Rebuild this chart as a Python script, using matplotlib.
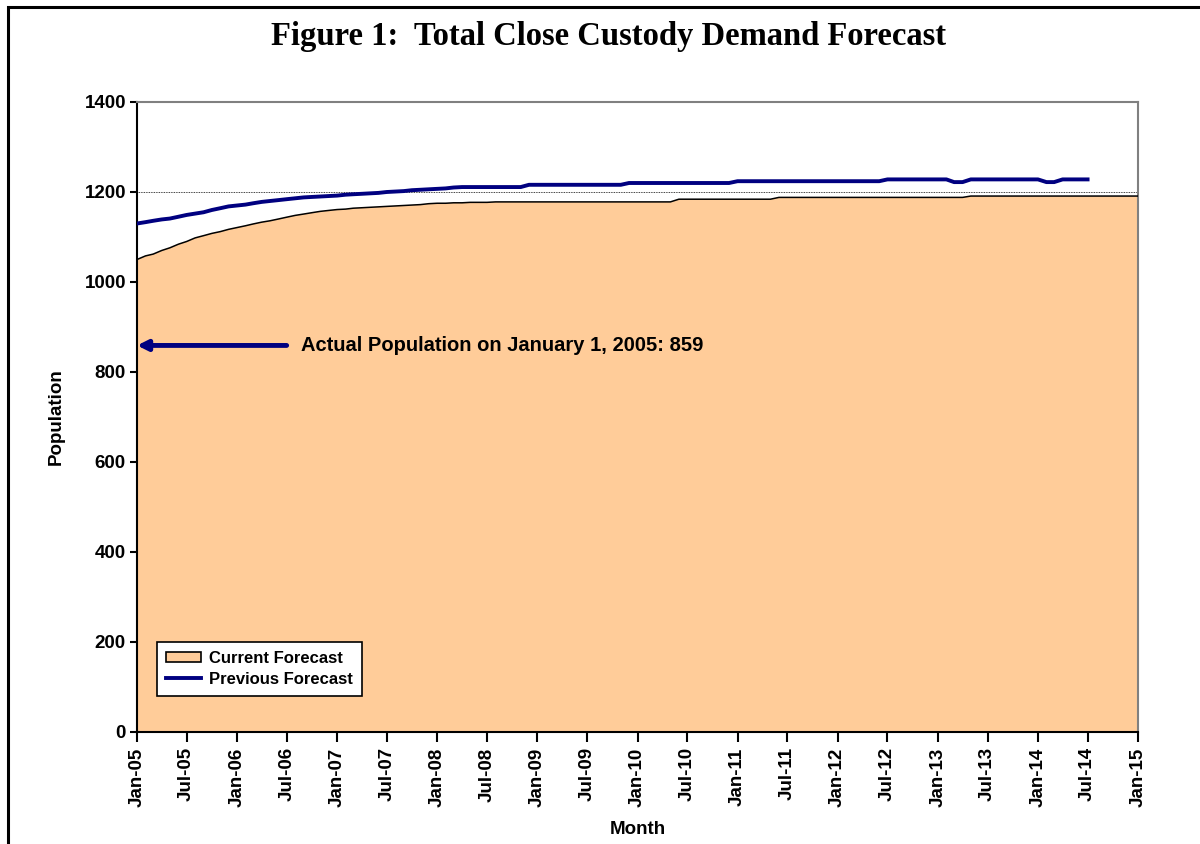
import numpy as np
import pandas as pd
import matplotlib
matplotlib.use("Agg")
import matplotlib.pyplot as plt
import matplotlib.dates as mdates
from matplotlib.patches import Rectangle, Patch
from matplotlib.lines import Line2D

plt.rcParams['font.family'] = ['Liberation Sans', 'DejaVu Sans']

# monthly values, Jan-05 onwards
current = [1050, 1058, 1062, 1070, 1076, 1084, 1090, 1098, 1103, 1108, 1112, 1117,
           1121, 1125, 1129, 1133, 1136, 1140, 1144, 1148, 1151, 1154, 1157, 1159,
           1161, 1162, 1164, 1165, 1166, 1167, 1168, 1169, 1170, 1171, 1172, 1174,
           1175, 1175, 1176, 1176, 1177, 1177, 1177, 1178, 1178, 1178, 1178, 1178,
           1178, 1178, 1178, 1178, 1178, 1178, 1178, 1178, 1178, 1178, 1178, 1178,
           1178, 1178, 1178, 1178, 1178, 1184, 1184, 1184, 1184, 1184, 1184, 1184,
           1184, 1184, 1184, 1184, 1184, 1188, 1188, 1188, 1188, 1188, 1188, 1188,
           1188, 1188, 1188, 1188, 1188, 1188, 1188, 1188, 1188, 1188, 1188, 1188,
           1188, 1188, 1188, 1188, 1191, 1191, 1191, 1191, 1191, 1191, 1191, 1191,
           1191, 1191, 1191, 1191, 1191, 1191, 1191, 1191, 1191, 1191, 1191, 1191,
           1191]
previous = [1130, 1133, 1136, 1139, 1141, 1145, 1149, 1152, 1155, 1160, 1164, 1168,
            1170, 1172, 1175, 1178, 1180, 1182, 1184, 1186, 1188, 1189, 1190, 1191,
            1192, 1194, 1195, 1196, 1197, 1198, 1200, 1201, 1202, 1204, 1205, 1206,
            1207, 1208, 1210, 1211, 1211, 1211, 1211, 1211, 1211, 1211, 1211, 1216,
            1216, 1216, 1216, 1216, 1216, 1216, 1216, 1216, 1216, 1216, 1216, 1220,
            1220, 1220, 1220, 1220, 1220, 1220, 1220, 1220, 1220, 1220, 1220, 1220,
            1224, 1224, 1224, 1224, 1224, 1224, 1224, 1224, 1224, 1224, 1224, 1224,
            1224, 1224, 1224, 1224, 1224, 1224, 1228, 1228, 1228, 1228, 1228, 1228,
            1228, 1228, 1222, 1222, 1228, 1228, 1228, 1228, 1228, 1228, 1228, 1228,
            1228, 1222, 1222, 1228, 1228, 1228, 1228]
actual_jan05 = 859

months_cur = pd.date_range('2005-01-01', periods=len(current), freq='MS')
months_prev = pd.date_range('2005-01-01', periods=len(previous), freq='MS')

fig = plt.figure(figsize=(12, 8.44), dpi=100)
ax = fig.add_axes([137/1200, 1 - 732/844, (1138 - 137)/1200, (732 - 102)/844])

# outer frame of the figure (only top/left visible in the original)
fig.patches.append(Rectangle((8/1200, -0.05), 1.2, 1 - 7/844 + 0.05, transform=fig.transFigure,
                             fill=False, edgecolor='black', linewidth=2.2))

ax.yaxis.grid(True, color='black', linestyle=(0, (1, 1)), linewidth=0.6, zorder=0)
ax.set_axisbelow(True)

ax.fill_between(months_cur, current, 0, facecolor='#FFCC99', edgecolor='none', zorder=2)
ax.plot(months_cur, current, color='black', linewidth=1.1, zorder=3)
ax.plot(months_prev, previous, color='#000080', linewidth=2.8, zorder=4)

ax.annotate('', xy=(months_cur[0], actual_jan05), xytext=(pd.Timestamp('2006-07-01'), actual_jan05),
            arrowprops=dict(arrowstyle='-|>,head_length=0.6,head_width=0.3', color='#000080',
                            linewidth=3.5, shrinkA=0, shrinkB=0), zorder=5)
ax.annotate('Actual Population on January 1, 2005: 859', xy=(pd.Timestamp('2006-07-01'), actual_jan05),
            xytext=(10, 0), textcoords='offset points',
            fontsize=14.5, fontweight='bold', va='center', ha='left', zorder=5)

ax.set_xlim(pd.Timestamp('2005-01-01'), pd.Timestamp('2015-01-01'))
ax.set_ylim(0, 1400)
ax.set_yticks(np.arange(0, 1401, 200))
ax.xaxis.set_major_locator(mdates.MonthLocator(bymonth=[1, 7]))
ax.xaxis.set_major_formatter(mdates.DateFormatter('%b-%y'))
ax.tick_params(axis='x', direction='out', length=7, width=1.5, rotation=90, labelsize=13.5, pad=4)
ax.tick_params(axis='y', direction='out', length=5, width=1.5, labelsize=13.5, pad=3)
for lab in ax.get_xticklabels() + ax.get_yticklabels():
    lab.set_fontweight('bold')

for s in ['left', 'bottom']:
    ax.spines[s].set_color('black')
    ax.spines[s].set_linewidth(1.5)
for s in ['top', 'right']:
    ax.spines[s].set_color('#808080')
    ax.spines[s].set_linewidth(1.5)

ax.set_xlabel('Month', fontsize=13.5, fontweight='bold', labelpad=10)
ax.set_ylabel('Population', fontsize=13.5, fontweight='bold', labelpad=14)

fig.text(0.507, 1 - 37/844, 'Figure 1:  Total Close Custody Demand Forecast',
         family=['Liberation Serif', 'DejaVu Serif'], fontsize=23.5, fontweight='bold',
         ha='center', va='center')

handles = [Patch(facecolor='#FFCC99', edgecolor='black', linewidth=1.2, label='Current Forecast'),
           Line2D([], [], color='#000080', linewidth=2.8, label='Previous Forecast')]
leg = ax.legend(handles=handles, loc='lower left', bbox_to_anchor=(20/1001, 36/630),
                prop={'weight': 'bold', 'size': 12}, frameon=True, fancybox=False,
                edgecolor='black', framealpha=1, borderpad=0.55, handlelength=2.1,
                handleheight=0.6, handletextpad=0.45, labelspacing=0.35, borderaxespad=0)
leg.get_frame().set_linewidth(1.2)

fig.savefig('out.png', dpi=100)
